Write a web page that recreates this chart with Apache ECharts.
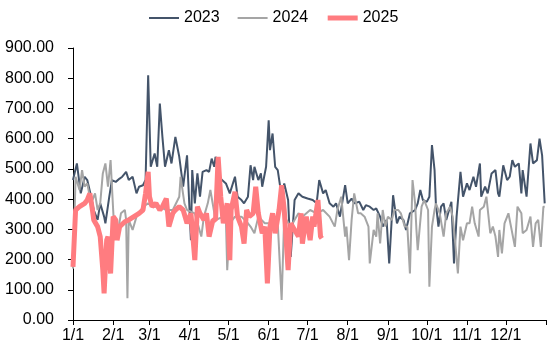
<!DOCTYPE html>
<html>
<head>
<meta charset="utf-8">
<script src="https://cdn.jsdelivr.net/npm/echarts@6/dist/echarts.min.js"></script>
<style>
  html, body { margin: 0; padding: 0; background: #fff; }
  #main { width: 558px; height: 354px; }
</style>
</head>
<body>
<div id="main"></div>
<script>
// month lengths used to build the daily category axis (1/1 ... 12/31)
var monthDays = [31, 28, 31, 30, 31, 30, 31, 31, 30, 31, 30, 31];
var yTicks = [0, 100, 200, 300, 400, 500, 600, 700, 800, 900];

// day of year (0 = 1/1) and value
var d2023 = [0,3,6,9,11,14,16,19,21,24,25,28,30,33,36,38,41,43,46,49,51,54,56,58,60,63,65,67,69,71,74,76,79,82,85,
  88,91,92,94,96,98,100,103,105,107,109,110,113,115,118,121,125,127,130,132,135,137,139,140,143,145,146,149,151,152,154,156,158,161,163,166,168,171,174,
  177,181,185,188,190,193,195,198,201,203,206,210,212,215,217,221,224,226,229,232,234,237,239,242,244,247,250,252,255,257,260,264,
  266,268,270,273,275,277,279,280,282,284,286,288,289,292,294,296,299,301,304,306,309,311,314,315,318,320,323,326,328,329,332,335,337,339,341,344,346,347,350,353,355,358,360,362,363,364];
var v2023 = [463,518,419,474,463,408,364,331,386,342,320,408,463,457,468,474,490,463,474,419,441,446,463,810,507,551,507,716,606,507,562,518,606,540,441,
  545,264,496,386,485,408,490,496,490,534,507,540,474,463,452,419,474,408,397,386,408,512,463,507,463,485,441,507,661,562,617,507,496,408,452,397,209,397,419,
  408,402,397,386,463,419,430,386,375,386,342,446,386,402,386,391,364,380,375,364,369,342,309,331,187,413,320,342,331,298,353,364,
  386,430,397,391,408,579,496,386,309,375,386,331,336,391,187,342,490,408,452,430,474,441,518,408,441,419,485,496,419,408,512,463,474,529,507,518,419,496,408,584,518,529,600,545,540,386];

var d2024 = [0,2,5,7,9,11,13,15,17,19,21,23,25,27,29,31,32,34,37,40,41,42,43,46,49,51,54,58,61,67,72,77,82,83,86,
  88,94,99,101,104,106,110,116,118,119,121,125,130,135,137,140,143,148,153,158,161,163,168,174,
  177,183,188,193,198,202,204,207,210,211,213,215,217,220,222,225,228,229,232,234,235,237,239,241,243,246,248,251,253,256,258,260,262,264,265,
  266,269,271,274,275,277,279,280,283,286,288,291,293,295,297,299,301,304,306,308,310,313,314,317,319,322,324,326,328,329,331,333,336,338,341,343,346,347,350,353,355,357,359,361,363,364];
var v2024 = [170,474,430,496,441,452,408,397,419,364,386,485,518,441,529,364,287,276,353,364,331,72,331,298,342,353,375,386,375,375,364,364,408,474,386,
  364,353,276,342,386,430,331,342,331,165,320,342,342,320,309,287,342,320,320,320,66,342,309,353,
  342,364,353,364,342,309,364,408,276,309,198,331,419,353,353,342,309,187,298,276,353,253,364,309,342,331,364,364,353,309,309,154,463,386,300,
  231,375,397,364,110,309,364,386,353,276,353,375,342,253,154,309,264,320,320,375,320,276,364,375,408,287,309,276,209,298,220,320,353,309,242,375,353,287,298,342,242,320,331,242,375,375];

var d2025 = [0,2,5,9,11,13,15,16,19,21,23,24,26,27,29,31,33,34,36,40,43,47,51,54,56,58,59,61,64,67,69,72,74,77,79,82,85,
  88,91,94,96,98,101,103,105,108,110,112,114,116,119,121,122,125,127,130,132,134,136,139,141,143,146,148,150,152,154,156,159,161,163,166,168,171,174,176,
  177,180,183,185,186,189,191,192];
var v2025 = [176,364,375,386,397,419,364,331,309,276,165,88,264,276,154,342,331,264,309,325,331,342,353,364,419,490,408,375,386,364,375,402,309,353,364,375,364,
  320,353,198,375,353,331,353,276,331,331,540,408,320,386,198,364,424,342,309,253,364,342,353,441,353,287,309,121,309,353,287,364,446,364,165,320,298,276,353,
  253,342,264,342,309,397,276,270];

var days = [];
for (var m = 0; m < 12; m++) {
  for (var d = 1; d <= monthDays[m]; d++) days.push((m + 1) + '/' + d);
}
days.push('');

function zip(ds, vs) {
  return ds.map(function (x, i) { return [x, vs[i]]; });
}
function isMonthStart(i, v) {
  return i === days.length - 1 || /\/1$/.test(v);
}

var myChart = echarts.init(document.getElementById('main'));
var option = {
  animation: false,
  textStyle: { fontFamily: 'Liberation Sans, Arial, sans-serif' },
  legend: {
    left: 143,
    top: 5,
    itemWidth: 30,
    itemHeight: 14,
    itemGap: 17,
    itemStyle: { opacity: 0 },
    textStyle: { fontSize: 16, color: '#000', fontFamily: 'Liberation Sans' },
    data: [
      { name: '2023', lineStyle: { width: 2 } },
      { name: '2024', lineStyle: { width: 2 } },
      { name: '2025', lineStyle: { width: 5 } }
    ]
  },
  grid: {
    left: 73,
    right: 12,
    top: 48,
    bottom: 34
  },
  xAxis: {
    type: 'category',
    data: days,
    boundaryGap: false,
    axisLine: { lineStyle: { color: '#000', width: 1 } },
    axisTick: { interval: isMonthStart, length: 5, lineStyle: { color: '#000' } },
    axisLabel: {
      interval: function (i, v) { return /\/1$/.test(v); },
      color: '#000',
      fontSize: 16,
      margin: 8,
      fontFamily: 'Liberation Sans'
    },
    splitLine: { show: false }
  },
  yAxis: {
    type: 'value',
    min: yTicks[0],
    max: yTicks[yTicks.length - 1],
    interval: 100,
    axisLine: { show: true, lineStyle: { color: '#000', width: 1 } },
    axisTick: { show: true, length: 5, lineStyle: { color: '#000' } },
    axisLabel: {
      color: '#000',
      fontSize: 16,
      margin: 19,
      fontFamily: 'Liberation Sans',
      formatter: function (v) { return v.toFixed(2); }
    },
    splitLine: { show: false }
  },
  series: [{
    name: '2023',
    type: 'line',
    symbol: 'none',
    data: zip(d2023, v2023),
    lineStyle: { color: '#44546A', width: 2 },
    itemStyle: { color: '#44546A' }
  }, {
    name: '2024',
    type: 'line',
    symbol: 'none',
    data: zip(d2024, v2024),
    lineStyle: { color: '#A5A5A5', width: 2 },
    itemStyle: { color: '#A5A5A5' }
  }, {
    name: '2025',
    type: 'line',
    symbol: 'none',
    data: zip(d2025, v2025),
    lineStyle: { color: '#FF7C80', width: 5 },
    itemStyle: { color: '#FF7C80' }
  }]
};
myChart.setOption(option);
</script>
</body>
</html>
